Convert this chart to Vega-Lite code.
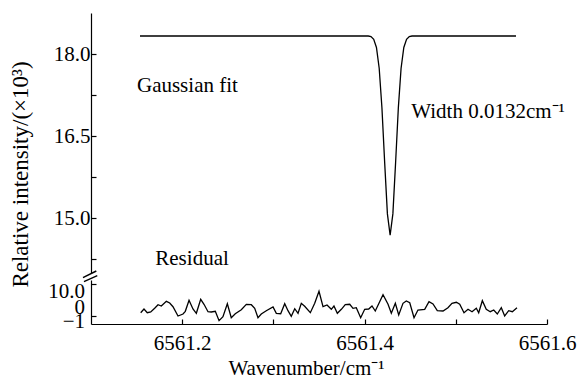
{
  "$schema": "https://vega.github.io/schema/vega-lite/v6.json",
  "padding": {"left": 9, "top": 13, "right": 1, "bottom": 2},
  "bounds": "flush",
  "spacing": 7,
  "config": {
    "view": {"stroke": null},
    "font": "Liberation Serif",
    "axis": {"grid": false}
  },
  "datasets": {
    "fit": [
      {"w": 6561.1537, "y": 18.33},
      {"w": 6561.404, "y": 18.33},
      {"w": 6561.407, "y": 18.32},
      {"w": 6561.410, "y": 18.27},
      {"w": 6561.413, "y": 18.12},
      {"w": 6561.416, "y": 17.74},
      {"w": 6561.419, "y": 17.02},
      {"w": 6561.422, "y": 16.02},
      {"w": 6561.425, "y": 15.08},
      {"w": 6561.428, "y": 14.69},
      {"w": 6561.431, "y": 15.08},
      {"w": 6561.434, "y": 16.02},
      {"w": 6561.437, "y": 17.02},
      {"w": 6561.440, "y": 17.74},
      {"w": 6561.443, "y": 18.12},
      {"w": 6561.446, "y": 18.27},
      {"w": 6561.449, "y": 18.32},
      {"w": 6561.452, "y": 18.33},
      {"w": 6561.566, "y": 18.33}
    ],
    "labels": [
      {"w": 6561.1504, "y": 17.31, "label": "Gaussian fit"},
      {"w": 6561.4512, "y": 16.826, "label": "Width 0.0132cm⁻¹"},
      {"w": 6561.1705, "y": 14.146, "label": "Residual"}
    ],
    "rlabels": [
      {"w": 6561.0934, "r": 32, "label": "10.0"},
      {"w": 6561.0934, "r": 16, "label": "0"},
      {"w": 6561.0934, "r": 2, "label": "−1"}
    ],
    "brk": [
      {"w": 6561.0912, "w2": 6561.1058, "v": 46.3, "v2": 53},
      {"w": 6561.0923, "w2": 6561.1069, "v": 42.3, "v2": 48.3}
    ],
    "resid": [
      {"w": 6561.1545, "r": 11.3}, {"w": 6561.1581, "r": 15.0}, {"w": 6561.1617, "r": 11.3},
      {"w": 6561.1655, "r": 12.0}, {"w": 6561.1698, "r": 15.7}, {"w": 6561.1735, "r": 19.3},
      {"w": 6561.1771, "r": 18.0}, {"w": 6561.1826, "r": 22.7}, {"w": 6561.1863, "r": 21.0},
      {"w": 6561.1899, "r": 17.3}, {"w": 6561.1954, "r": 8.0}, {"w": 6561.2009, "r": 10.0},
      {"w": 6561.2034, "r": 12.7}, {"w": 6561.2075, "r": 23.7}, {"w": 6561.2118, "r": 15.0},
      {"w": 6561.2155, "r": 10.7}, {"w": 6561.2203, "r": 24.7}, {"w": 6561.2239, "r": 19.7},
      {"w": 6561.2283, "r": 12.3}, {"w": 6561.2319, "r": 12.0}, {"w": 6561.2363, "r": 12.7},
      {"w": 6561.2404, "r": 3.3}, {"w": 6561.2447, "r": 7.3}, {"w": 6561.2495, "r": 20.3},
      {"w": 6561.2538, "r": 6.3}, {"w": 6561.2582, "r": 10.3}, {"w": 6561.2648, "r": 14.3},
      {"w": 6561.2703, "r": 19.7}, {"w": 6561.2758, "r": 19.3}, {"w": 6561.2795, "r": 15.7},
      {"w": 6561.2831, "r": 6.3}, {"w": 6561.2867, "r": 10.0}, {"w": 6561.2922, "r": 13.3},
      {"w": 6561.2996, "r": 17.0}, {"w": 6561.3032, "r": 10.7}, {"w": 6561.3080, "r": 10.3},
      {"w": 6561.3124, "r": 20.3}, {"w": 6561.3160, "r": 13.3}, {"w": 6561.3196, "r": 7.7},
      {"w": 6561.3234, "r": 15.3}, {"w": 6561.3270, "r": 10.7}, {"w": 6561.3306, "r": 20.7},
      {"w": 6561.3343, "r": 17.7}, {"w": 6561.3405, "r": 11.3}, {"w": 6561.3453, "r": 20.7},
      {"w": 6561.3500, "r": 32.7}, {"w": 6561.3544, "r": 17.3}, {"w": 6561.3588, "r": 19.0},
      {"w": 6561.3635, "r": 14.7}, {"w": 6561.3664, "r": 18.0}, {"w": 6561.3701, "r": 10.7},
      {"w": 6561.3745, "r": 14.7}, {"w": 6561.3788, "r": 19.3}, {"w": 6561.3837, "r": 19.7},
      {"w": 6561.3873, "r": 15.7}, {"w": 6561.3909, "r": 16.3}, {"w": 6561.3957, "r": 6.3},
      {"w": 6561.4001, "r": 14.7}, {"w": 6561.4045, "r": 15.0}, {"w": 6561.4081, "r": 18.0},
      {"w": 6561.4117, "r": 13.0}, {"w": 6561.4202, "r": 29.3}, {"w": 6561.4257, "r": 19.7},
      {"w": 6561.4293, "r": 10.7}, {"w": 6561.4337, "r": 20.7}, {"w": 6561.4374, "r": 9.0},
      {"w": 6561.4421, "r": 20.7}, {"w": 6561.4457, "r": 23.0}, {"w": 6561.4495, "r": 21.3},
      {"w": 6561.4542, "r": 6.3}, {"w": 6561.4585, "r": 14.0}, {"w": 6561.4659, "r": 14.7},
      {"w": 6561.4706, "r": 22.3}, {"w": 6561.4750, "r": 20.0}, {"w": 6561.4797, "r": 13.3},
      {"w": 6561.4860, "r": 13.0}, {"w": 6561.4914, "r": 16.3}, {"w": 6561.4958, "r": 20.7},
      {"w": 6561.5006, "r": 21.7}, {"w": 6561.5043, "r": 19.7}, {"w": 6561.5090, "r": 11.3},
      {"w": 6561.5134, "r": 14.7}, {"w": 6561.5178, "r": 12.3}, {"w": 6561.5225, "r": 15.7},
      {"w": 6561.5251, "r": 11.3}, {"w": 6561.5291, "r": 23.3}, {"w": 6561.5334, "r": 14.7},
      {"w": 6561.5378, "r": 12.3}, {"w": 6561.5416, "r": 14.0}, {"w": 6561.5455, "r": 10.0},
      {"w": 6561.5499, "r": 16.3}, {"w": 6561.5536, "r": 8.0}, {"w": 6561.5580, "r": 13.3},
      {"w": 6561.5620, "r": 12.3}, {"w": 6561.5671, "r": 16.3}
    ]
  },
  "vconcat": [
    {
      "width": 456,
      "height": 260,
      "layer": [
        {
          "data": {"name": "fit"},
          "mark": {"type": "line", "color": "black", "strokeWidth": 1.3},
          "encoding": {
            "x": {"field": "w", "type": "quantitative", "scale": {"domain": [6561.1, 6561.6], "nice": false, "zero": false}, "axis": null},
            "y": {
              "field": "y", "type": "quantitative",
              "scale": {"domain": [14.0, 18.75], "nice": false, "zero": false},
              "axis": {
                "title": "Relative intensity/(×10³)",
                "values": [14.25, 15, 15.75, 16.5, 17.25, 18],
                "labelExpr": "(datum.value * 4) % 6 == 0 ? format(datum.value, '.1f') : ''",
                "labelOverlap": false, "labelBound": false, "labelFlush": false,
                "labelFont": "Liberation Serif", "labelFontSize": 21, "labelColor": "black",
                "titleFont": "Liberation Serif", "titleFontSize": 23, "titleFontWeight": "normal", "titleColor": "black",
                "domainColor": "black", "domainWidth": 1.2, "tickColor": "black", "tickWidth": 1.2, "tickSize": -5,
                "grid": false,
                "labelPadding": 6,
                "titlePadding": 21,
                "titleY": 161
              }
            }
          }
        },
        {
          "data": {"name": "labels"},
          "mark": {"type": "text", "align": "left", "baseline": "alphabetic", "font": "Liberation Serif", "fontSize": 21, "color": "black"},
          "encoding": {
            "x": {"field": "w", "type": "quantitative"},
            "y": {"field": "y", "type": "quantitative"},
            "text": {"field": "label"}
          }
        }
      ]
    },
    {
      "width": 456,
      "height": 44,
      "layer": [
        {
          "data": {"name": "resid"},
          "mark": {"type": "line", "color": "black", "strokeWidth": 1.3},
          "encoding": {
            "x": {
              "field": "w", "type": "quantitative",
              "scale": {"domain": [6561.1, 6561.6], "nice": false, "zero": false},
              "axis": {
                "title": "Wavenumber/cm⁻¹",
                "values": [6561.2, 6561.3, 6561.4, 6561.5, 6561.6],
                "labelExpr": "round(datum.value * 10) % 2 == 0 ? format(datum.value, '.1f') : ''",
                "labelOverlap": false, "labelBound": false, "labelFlush": false,
                "labelFont": "Liberation Serif", "labelFontSize": 21, "labelColor": "black",
                "titleFont": "Liberation Serif", "titleFontSize": 21, "titleFontWeight": "normal", "titleColor": "black",
                "domainColor": "black", "domainWidth": 1.2, "tickColor": "black", "tickWidth": 1.2, "tickSize": -5,
                "grid": false,
                "labelPadding": 13,
                "titlePadding": 4,
                "titleX": 215
              }
            },
            "y": {
              "field": "r", "type": "quantitative",
              "scale": {"domain": [0, 44], "nice": false, "zero": false},
              "axis": {
                "title": null,
                "values": [8, 16, 24, 32, 40],
                "labels": false,
                "domainColor": "black", "domainWidth": 1.2, "tickColor": "black", "tickWidth": 1.2, "tickSize": -5,
                "grid": false
              }
            }
          }
        },
        {
          "data": {"name": "rlabels"},
          "mark": {"type": "text", "align": "right", "baseline": "middle", "font": "Liberation Serif", "fontSize": 21, "color": "black"},
          "encoding": {
            "x": {"field": "w", "type": "quantitative"},
            "y": {"field": "r", "type": "quantitative"},
            "text": {"field": "label"}
          }
        },
        {
          "data": {"name": "brk"},
          "mark": {"type": "rule", "color": "black", "strokeWidth": 1.4},
          "encoding": {
            "x": {"field": "w", "type": "quantitative"},
            "x2": {"field": "w2"},
            "y": {"field": "v", "type": "quantitative"},
            "y2": {"field": "v2"}
          }
        }
      ]
    }
  ]
}
